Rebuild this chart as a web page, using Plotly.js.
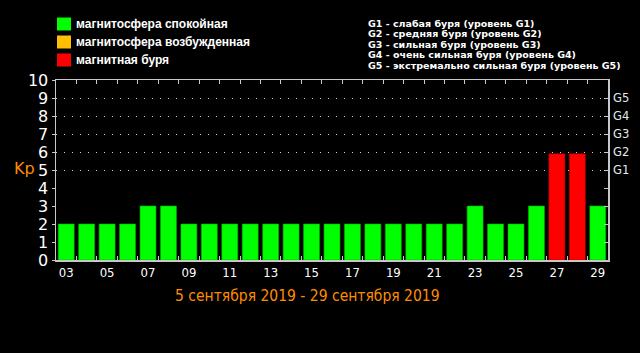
<!DOCTYPE html>
<html>
<head>
<meta charset="utf-8">
<script src="https://cdn.plot.ly/plotly-3.0.1.min.js"></script>
<style>html,body{margin:0;padding:0;background:#000;}#chart{width:640px;height:353px;}</style>
</head>
<body>
<div id="chart"></div>
<script>
// ---- data ----
const days = [3,4,5,6,7,8,9,10,11,12,13,14,15,16,17,18,19,20,21,22,23,24,25,26,27,28,29];
const kp   = [2,2,2,2,3,3,2,2,2,2,2,2,2,2,2,2,2,2,2,2,3,2,2,3,5.9,5.9,3];
const xTickVals = [3,5,7,9,11,13,15,17,19,21,23,25,27,29];
const xTickText = ['03','05','07','09','11','13','15','17','19','21','23','25','27','29'];
const yTickVals = [0,1,2,3,4,5,6,7,8,9,10];
const gLevels = [5,6,7,8,9];
const gLabels = ['G1','G2','G3','G4','G5'];
const legendLabels = ['магнитосфера спокойная','магнитосфера возбужденная','магнитная буря'];
const legendColors = ['#00ff00','#ffbf00','#ff0000'];
const stormLines = [
  'G1 - слабая буря (уровень G1)',
  'G2 - средняя буря (уровень G2)',
  'G3 - сильная буря (уровень G3)',
  'G4 - очень сильная буря (уровень G4)',
  'G5 - экстремально сильная буря (уровень G5)'
];
const xTitle = '5 сентября 2019 - 29 сентября 2019';

// ---- split into categories ----
function cat(v){ return v < 4 ? 0 : (v < 5 ? 1 : 2); }
const edgeColors = ['#00b000','#c08000','#b00000'];
const traces = [0,1,2].map(c => {
  const xs = [], ys = [];
  days.forEach((d,i) => { if (cat(kp[i]) === c) { xs.push(d); ys.push(kp[i]); } });
  return {
    type:'bar', x:xs, y:ys, name:legendLabels[c], width:0.78,
    marker:{color:legendColors[c], line:{color:edgeColors[c], width:0.6}},
    showlegend:false, hoverinfo:'skip', xaxis:'x', yaxis:'y'
  };
});
// invisible helper traces to activate the overlay axes
traces.push({type:'scatter', x:[days[0]], y:[0], mode:'none', xaxis:'x2', yaxis:'y2', showlegend:false, hoverinfo:'skip'});
traces.push({type:'scatter', x:[days[0]], y:[0], mode:'none', xaxis:'x', yaxis:'y3', showlegend:false, hoverinfo:'skip'});

const boundaries = days.slice(0,-1).map(d => d + 0.5);
const axisColor = '#c8c8c8';
const xr = [days[0]-0.5, days[days.length-1]+0.5];

const annotations = [];
const shapes = [];
legendLabels.forEach((t,i) => {
  const yc = 24 + i*18;
  shapes.push({type:'rect', xref:'paper', yref:'paper',
    x0:(57-56)/552, x1:(71-56)/552, y0:(260-(yc+6.5))/180, y1:(260-(yc-6.5))/180,
    fillcolor:legendColors[i], line:{width:0}});
  annotations.push({xref:'paper', yref:'paper', x:(74-56)/552, y:(260-yc)/180,
    xanchor:'left', yanchor:'middle', showarrow:false, text:t,
    font:{family:'Liberation Sans, Arial, sans-serif', size:12, color:'#ffffff', weight:'bold'}});
});
stormLines.forEach((t,i) => {
  const yc = 23 + i*10.6;
  annotations.push({xref:'paper', yref:'paper', x:(366-56)/552, y:(260-yc)/180,
    xanchor:'left', yanchor:'middle', showarrow:false, text:t,
    font:{family:'DejaVu Sans, sans-serif', size:9.5, color:'#ffffff', weight:'bold'}});
});
annotations.push({xref:'paper', yref:'paper', x:(24-56)/552, y:(260-168)/180,
  xanchor:'center', yanchor:'middle', showarrow:false, text:'Kp',
  font:{family:'DejaVu Sans, sans-serif', size:16, color:'#ff8c00'}});
annotations.push({xref:'paper', yref:'paper', x:(307-56)/552, y:(260-296)/180,
  xanchor:'center', yanchor:'middle', showarrow:false, text:xTitle,
  font:{family:'DejaVu Sans Condensed, DejaVu Sans, sans-serif', size:15.5, color:'#ff8c00'}});

const layout = {
  width:640, height:353,
  margin:{l:56, r:32, t:80, b:93, pad:0},
  paper_bgcolor:'#000000', plot_bgcolor:'#000000',
  showlegend:false,
  bargap:0,
  xaxis:{range:xr, tickvals:xTickVals, ticktext:xTickText, ticks:'', showgrid:false, zeroline:false,
    showline:true, linecolor:axisColor, linewidth:1.5, mirror:true,
    tickfont:{family:'DejaVu Sans Condensed, DejaVu Sans, sans-serif', size:13, color:'#ffffff'}, fixedrange:true},
  xaxis2:{range:xr, overlaying:'x', side:'bottom', tickvals:boundaries, showticklabels:false,
    ticks:'inside', ticklen:4, tickcolor:axisColor, tickwidth:1, showgrid:false, zeroline:false,
    showline:false, mirror:'ticks'},
  yaxis:{range:[0,10], tickvals:yTickVals, ticks:'outside', ticklen:3, tickcolor:axisColor, showgrid:false, zeroline:false,
    showline:true, linecolor:axisColor, linewidth:1.5, mirror:true,
    tickfont:{family:'DejaVu Sans, sans-serif', size:16, color:'#ffffff'}, fixedrange:true},
  yaxis2:{range:[0,10], overlaying:'y', side:'right', tickvals:[1,2,3,4,5,6,7,8,9],
    ticktext:['','','',''].concat(gLabels), ticks:'inside', ticklen:4, tickcolor:axisColor,
    ticklabelstandoff:4,
    showgrid:false, zeroline:false, showline:false,
    tickfont:{family:'DejaVu Sans, sans-serif', size:11.5, color:'#e8e8e8'}},
  yaxis3:{range:[0,10], overlaying:'y', side:'left', tickvals:gLevels, showticklabels:false, ticks:'',
    showgrid:true, gridcolor:'#d0d0d0', gridwidth:1, griddash:'1px,7px', zeroline:false, showline:false},
  shapes:shapes,
  annotations:annotations
};

Plotly.newPlot('chart', traces, layout, {displayModeBar:false, staticPlot:true});
</script>
</body>
</html>
